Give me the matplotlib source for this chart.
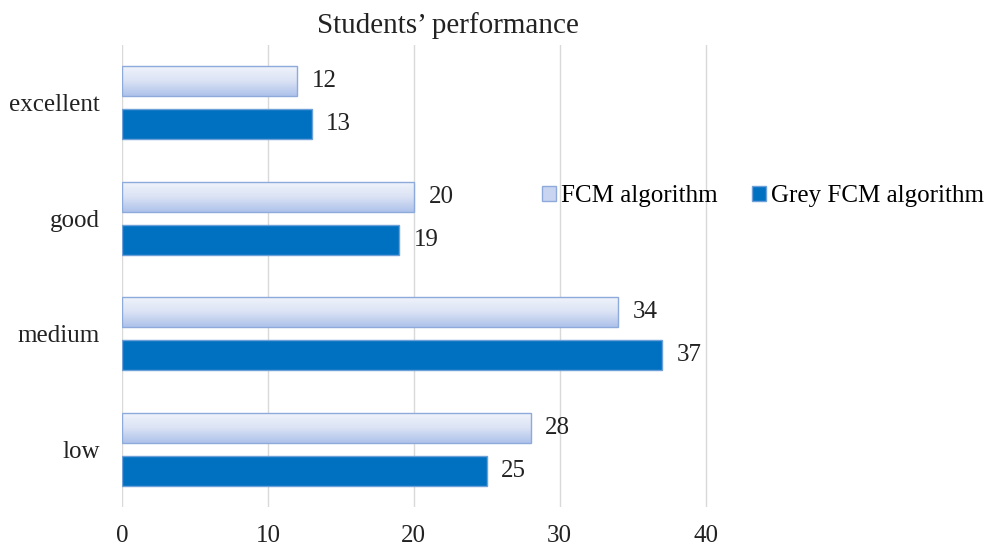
import matplotlib
matplotlib.use("Agg")
import matplotlib.pyplot as plt
import numpy as np
from matplotlib.patches import Patch
from matplotlib.colors import LinearSegmentedColormap

categories = ["excellent", "good", "medium", "low"]
fcm = [12, 20, 34, 28]
grey_fcm = [13, 19, 37, 25]
xticks = [0, 10, 20, 30, 40]
title = "Students\u2019 performance"
series_names = ["FCM algorithm", "Grey FCM algorithm"]

plt.rcParams['font.family'] = ['Liberation Serif', 'DejaVu Serif']

fig = plt.figure(figsize=(9.96, 5.52), dpi=100)
ax = fig.add_axes([122/996, 45/552, 1 - 122/996, (507-45)/552])

y = np.arange(len(categories))
h = 0.26
off = 0.187

bars1 = ax.barh(y - off, fcm, height=h, color='none', edgecolor='#8eaadb', linewidth=1.0, zorder=3)
bars2 = ax.barh(y + off, grey_fcm, height=h, color='#0070c0', edgecolor='#6d9fd8', linewidth=1.0, zorder=3)

grad = np.linspace(0, 1, 100).reshape(-1, 1)
cmap = LinearSegmentedColormap.from_list('g', ['#f1f4fb', '#dbe3f5', '#aec2ea'])
for b in bars1:
    x0, y0 = b.get_x(), b.get_y()
    w, hh = b.get_width(), b.get_height()
    im = ax.imshow(grad, cmap=cmap, aspect='auto', extent=(x0, x0 + w, y0 + hh, y0),
                   origin='upper', zorder=2.5, interpolation='bilinear')
    im.set_clip_path(b)

fs = 18
for b, v in zip(bars1, fcm):
    ax.text(v + 1.0, b.get_y() + b.get_height()/2, str(v), va='center', ha='left', fontsize=fs, color='#222222')
for b, v in zip(bars2, grey_fcm):
    ax.text(v + 1.0, b.get_y() + b.get_height()/2, str(v), va='center', ha='left', fontsize=fs, color='#222222')

ax.set_xlim(0, 59.9)
ax.set_ylim(3.5, -0.5)
ax.set_xticks(xticks)
ax.set_xticklabels([str(t) for t in xticks], fontsize=fs, color='#222222')
ax.set_yticks(y)
ax.set_yticklabels(categories, fontsize=fs, color='#222222')
ax.tick_params(axis='x', length=0, pad=13)
ax.tick_params(axis='y', length=0, pad=16)
ax.grid(axis='x', color='#d9d9d9', linewidth=1.0, zorder=0)
for s in ax.spines.values():
    s.set_visible(False)
ax.set_facecolor('none')

fig.text(448/996, 1 - 26/552, title, ha='center', va='center', fontsize=21, color='#222222')

handles = [Patch(facecolor='#c9d5f0', edgecolor='#8eaadb'), Patch(facecolor='#0070c0', edgecolor='#6d9fd8')]
ax.legend(handles, series_names, loc='center', bbox_to_anchor=(763/996, 1 - 196/552), bbox_transform=fig.transFigure,
          ncol=2, frameon=False, fontsize=fs, handlelength=0.55, handleheight=0.55, handletextpad=0.2, columnspacing=1.4)

fig.savefig("out.png", dpi=100)
